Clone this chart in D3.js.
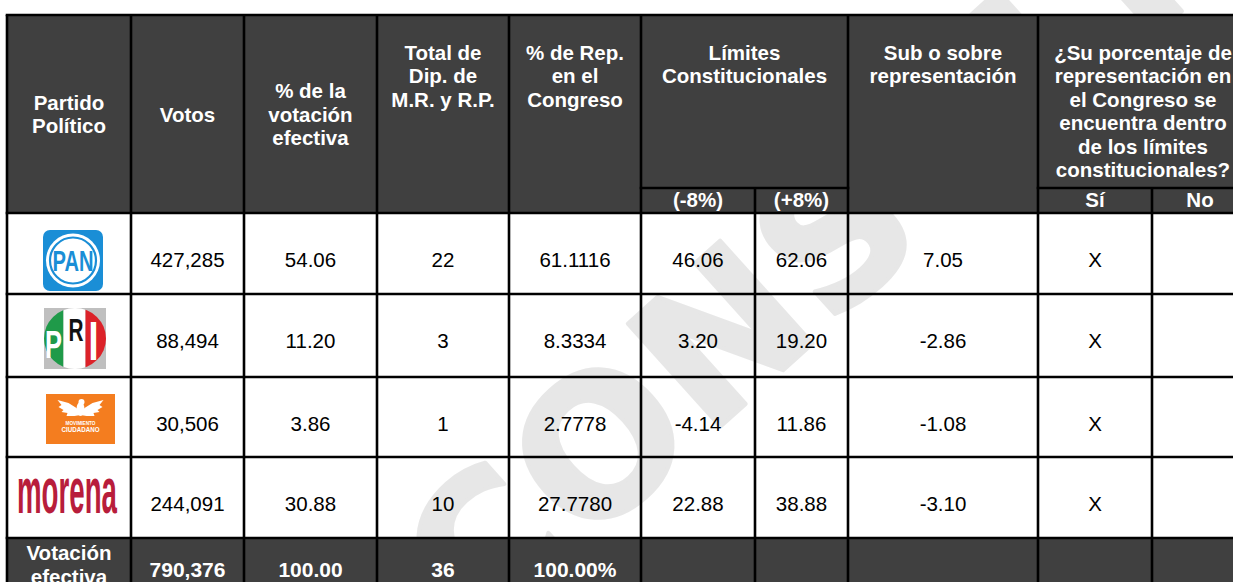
<!DOCTYPE html>
<html>
<head>
<meta charset="utf-8">
<script src="https://cdn.jsdelivr.net/npm/d3@7"></script>
<style>
  body { margin: 0; background: #fff; overflow: hidden; }
  svg { display: block; font-family: "Liberation Sans", Arial, sans-serif; }
</style>
</head>
<body>
<div id="chart"></div>
<script>
const partidos = ["PAN", "PRI", "MC", "MORENA"];
const votos = [427285, 88494, 30506, 244091];
const pct_votacion = [54.06, 11.20, 3.86, 30.88];
const diputados = [22, 3, 1, 10];
const pct_rep = [61.1116, 8.3334, 2.7778, 27.7780];
const limite_inf = [46.06, 3.20, -4.14, 22.88];
const limite_sup = [62.06, 19.20, 11.86, 38.88];
const sub_sobre = [7.05, -2.86, -1.08, -3.10];
const dentro_si = ["X", "X", "X", "X"];
const dentro_no = ["", "", "", ""];
const total_label = ["Votación", "efectiva"];
const total_votos = 790376;
const total_pct = 100.00;
const total_dip = 36;
const total_rep = "100.00%";

const header_labels = [
  "Partido\nPolítico",
  "Votos",
  "% de la\nvotación\nefectiva",
  "Total de\nDip. de\nM.R. y R.P.",
  "% de Rep.\nen el\nCongreso",
  "Límites\nConstitucionales",
  "Sub o sobre\nrepresentación",
  "¿Su porcentaje de\nrepresentación en\nel Congreso se\nencuentra dentro\nde los límites\nconstitucionales?"
];
const sub_labels = ["(-8%)", "(+8%)", "Sí", "No"];
const watermark = "CONSULTA";

// --- layout ---
const W = 1233, H = 582;
const table_left = 7, table_top = 15;
const col_widths = [124, 113, 133, 132, 132, 114, 93, 190, 114, 96];
const row_heights = [173, 25, 81, 83, 80, 81, 62];   // head, subhead, 4 parties, total
const HEAD_BG = "#404040";
const LINE_H = 23.5;

const col_edges = [table_left, ...d3.cumsum(col_widths).map(d => d + table_left)];
const row_edges = [table_top, ...d3.cumsum(row_heights).map(d => d + table_top)];
const x = d3.scaleOrdinal().domain(d3.range(col_edges.length)).range(col_edges);
const y = d3.scaleOrdinal().domain(d3.range(row_edges.length)).range(row_edges);

// plain hyphen for negatives, like the source table
const locale = d3.formatLocale({decimal: ".", thousands: ",", grouping: [3], currency: ["$", ""], minus: "-"});
const fmt_int = locale.format(",");
const fmt2 = locale.format(".2f");
const fmt4 = locale.format(".4f");

const body_rows = partidos.map((p, i) => [
  p,
  fmt_int(votos[i]),
  fmt2(pct_votacion[i]),
  String(diputados[i]),
  fmt4(pct_rep[i]),
  fmt2(limite_inf[i]),
  fmt2(limite_sup[i]),
  fmt2(sub_sobre[i]),
  dentro_si[i],
  dentro_no[i]
]);

const svg = d3.select("#chart").append("svg")
    .attr("width", W)
    .attr("height", H);

const fills_g = svg.append("g").classed("fills", true);
const mark_g = svg.append("g").classed("watermark", true);
const head_g = svg.append("g").classed("head", true);
const logos_g = svg.append("g").classed("logos", true);
const text_g = svg.append("g").classed("texts", true);
const lines_g = svg.append("g").classed("lines", true);

// body cells are white
fills_g.append("rect")
    .attr("x", x(0)).attr("y", y(2))
    .attr("width", x(10) - x(0)).attr("height", y(6) - y(2))
    .attr("fill", "#fff");

// watermark sits over the white cells, under the dark header
mark_g.append("text")
    .attr("transform", "translate(478,645) rotate(-42)")
    .attr("font-family", "'DejaVu Sans', sans-serif")
    .attr("font-weight", "bold")
    .attr("font-size", 190)
    .attr("letter-spacing", 4)
    .attr("fill", "#d8d8d8")
    .attr("stroke", "#d8d8d8")
    .attr("stroke-width", 4)
    .attr("stroke-linejoin", "round")
    .attr("opacity", 0.6)
    .text(watermark);

// dark header and total row
head_g.append("rect")
    .attr("x", x(0)).attr("y", y(0))
    .attr("width", x(10) - x(0)).attr("height", y(2) - y(0))
    .attr("fill", HEAD_BG);
head_g.append("rect")
    .attr("x", x(0)).attr("y", y(6))
    .attr("width", x(10) - x(0)).attr("height", y(7) - y(6))
    .attr("fill", HEAD_BG);

// header text: [label index, first col, last col+1, valign]
const head_cells = [
  [0, 0, 1, "middle"], [1, 1, 2, "middle"], [2, 2, 3, "middle"],
  [3, 3, 4, "top"], [4, 4, 5, "top"], [5, 5, 7, "top"],
  [6, 7, 8, "top"], [7, 8, 10, "top"]
];

function multiline(g, lines, cx, first_baseline, opts) {
  const t = g.append("text")
      .attr("text-anchor", "middle")
      .attr("font-size", opts.size)
      .attr("font-weight", opts.weight)
      .attr("fill", opts.fill);
  lines.forEach((line, k) => {
    t.append("tspan")
        .attr("x", cx)
        .attr("y", first_baseline + k * LINE_H)
        .text(line);
  });
  return t;
}

const head_style = {size: 20.5, weight: "bold", fill: "#fff"};
head_cells.forEach(([li, c0, c1, valign]) => {
  const lines = header_labels[li].split("\n");
  const cx = (x(c0) + x(c1)) / 2;
  let base;
  if (valign === "middle") {
    const cy = (y(0) + y(2)) / 2;
    base = cy - (lines.length - 1) * LINE_H / 2 + 7.5;
  } else {
    base = 59.5;
  }
  multiline(text_g, lines, cx, base, head_style);
});

[5, 6, 8, 9].forEach((c, i) => {
  text_g.append("text")
      .attr("x", (x(c) + x(c + 1)) / 2)
      .attr("y", y(2) - 6)
      .attr("text-anchor", "middle")
      .attr("font-size", head_style.size)
      .attr("font-weight", "bold")
      .attr("fill", "#fff")
      .text(sub_labels[i]);
});

// body values
body_rows.forEach((row, r) => {
  row.slice(1).forEach((val, k) => {
    const c = k + 1;
    text_g.append("text")
        .attr("x", (x(c) + x(c + 1)) / 2)
        .attr("y", y(r + 2) + 54)
        .attr("text-anchor", "middle")
        .attr("font-size", 20.5)
        .attr("fill", "#000")
        .text(val);
  });
});

// total row
const total_vals = [fmt_int(total_votos), fmt2(total_pct), String(total_dip), total_rep];
multiline(text_g, total_label, (x(0) + x(1)) / 2, y(6) + 22, {size: 20.5, weight: "bold", fill: "#fff"});
total_vals.forEach((val, k) => {
  const c = k + 1;
  text_g.append("text")
      .attr("x", (x(c) + x(c + 1)) / 2)
      .attr("y", y(6) + 39)
      .attr("text-anchor", "middle")
      .attr("font-size", 21)
      .attr("font-weight", "bold")
      .attr("fill", "#fff")
      .text(val);
});

// --- logos ---
function logo_pan(g) {
  const blue = "#1a8ed6";
  g.append("rect").attr("x", -30).attr("y", -30.5).attr("width", 60).attr("height", 61)
      .attr("rx", 7).attr("fill", blue);
  g.append("circle").attr("r", 27).attr("fill", "#fff");
  g.append("circle").attr("r", 23).attr("fill", "none")
      .attr("stroke", blue).attr("stroke-width", 2.2);
  g.append("text").attr("y", 10).attr("text-anchor", "middle")
      .attr("font-size", 29).attr("font-weight", "bold").attr("fill", blue)
      .attr("textLength", 41).attr("lengthAdjust", "spacingAndGlyphs")
      .text("PAN");
}

function logo_pri(g) {
  g.append("rect").attr("x", -31).attr("y", -30.5).attr("width", 62).attr("height", 61)
      .attr("fill", "#bfbfbf");
  const clip_id = "pri-clip";
  g.append("clipPath").attr("id", clip_id)
    .append("ellipse").attr("rx", 31).attr("ry", 30.5);
  const bands = g.append("g").attr("clip-path", `url(#${clip_id})`);
  bands.append("rect").attr("x", -31).attr("y", -31).attr("width", 19.5).attr("height", 62).attr("fill", "#1f9a49");
  bands.append("rect").attr("x", -11.5).attr("y", -31).attr("width", 22).attr("height", 62).attr("fill", "#fff");
  bands.append("rect").attr("x", 10.5).attr("y", -31).attr("width", 21).attr("height", 62).attr("fill", "#dc2229");
  g.append("text").attr("x", -21.5).attr("y", 19).attr("text-anchor", "middle")
      .attr("font-size", 38).attr("font-weight", "bold").attr("fill", "#fff")
      .attr("textLength", 17).attr("lengthAdjust", "spacingAndGlyphs").text("P");
  g.append("text").attr("x", 1).attr("y", 2).attr("text-anchor", "middle")
      .attr("font-size", 32).attr("font-weight", "bold").attr("fill", "#111")
      .attr("textLength", 15).attr("lengthAdjust", "spacingAndGlyphs").text("R");
  g.append("text").attr("x", 18.5).attr("y", 21.5).attr("text-anchor", "middle")
      .attr("font-size", 55).attr("font-weight", "bold").attr("fill", "#fff")
      .attr("textLength", 10).attr("lengthAdjust", "spacingAndGlyphs").text("I");
}

function logo_mc(g) {
  g.append("rect").attr("x", -34.5).attr("y", -25).attr("width", 69).attr("height", 50)
      .attr("fill", "#f47d1f");
  const wing = "M0,5 L-4,-2 L-12,-7 L-23,-10 L-19,-5 L-22,-3 L-17,0 L-19,2 L-13,3 L-14,6 L-6,6 Z";
  const eagle = g.append("g").attr("transform", "translate(0,-9)").attr("fill", "#fff");
  eagle.append("path").attr("d", wing);
  eagle.append("path").attr("d", wing).attr("transform", "scale(-1,1)");
  eagle.append("ellipse").attr("cx", 0).attr("cy", -1).attr("rx", 4).attr("ry", 7);
  eagle.append("circle").attr("cx", 1).attr("cy", -8).attr("r", 3);
  g.append("text").attr("y", 5.5).attr("text-anchor", "middle")
      .attr("font-size", 5).attr("font-weight", "bold").attr("fill", "#fff")
      .attr("textLength", 30).attr("lengthAdjust", "spacingAndGlyphs").text("MOVIMIENTO");
  g.append("text").attr("y", 13).attr("text-anchor", "middle")
      .attr("font-size", 7).attr("font-weight", "bold").attr("fill", "#fff")
      .attr("textLength", 38).attr("lengthAdjust", "spacingAndGlyphs").text("CIUDADANO");
}

function logo_morena(g) {
  g.append("text").attr("x", -50).attr("y", 17)
      .attr("font-size", 64).attr("font-weight", "bold").attr("fill", "#b81d3b")
      .attr("textLength", 100).attr("lengthAdjust", "spacingAndGlyphs")
      .text("morena");
}

const logo_draw = {PAN: logo_pan, PRI: logo_pri, MC: logo_mc, MORENA: logo_morena};
const logo_center = {PAN: [73, 260.5], PRI: [75, 338.5], MC: [80.5, 419], MORENA: [67, 496]};

partidos.forEach(p => {
  const [cx, cy] = logo_center[p];
  const g = logos_g.append("g").attr("transform", `translate(${cx},${cy})`);
  logo_draw[p](g);
});

// --- grid lines ---
const LW = 2.6;
const hlines = [
  [y(0), 0, 10], [y(1), 5, 7], [y(1), 8, 10], [y(2), 0, 10],
  [y(3), 0, 10], [y(4), 0, 10], [y(5), 0, 10], [y(6), 0, 10]
];
lines_g.selectAll("line.h")
  .data(hlines)
  .join("line")
    .classed("h", true)
    .attr("x1", d => x(d[1]) - LW / 2)
    .attr("x2", d => x(d[2]) + LW / 2)
    .attr("y1", d => d[0])
    .attr("y2", d => d[0])
    .attr("stroke", "#000")
    .attr("stroke-width", LW);

// vertical lines: inner cols 6 and 9 start at the sub-header line
const vlines = d3.range(11).map(c => [c, (c === 6 || c === 9) ? y(1) : y(0)]);
lines_g.selectAll("line.v")
  .data(vlines)
  .join("line")
    .classed("v", true)
    .attr("x1", d => x(d[0]))
    .attr("x2", d => x(d[0]))
    .attr("y1", d => d[1])
    .attr("y2", H + 10)
    .attr("stroke", "#000")
    .attr("stroke-width", LW);
</script>
</body>
</html>
